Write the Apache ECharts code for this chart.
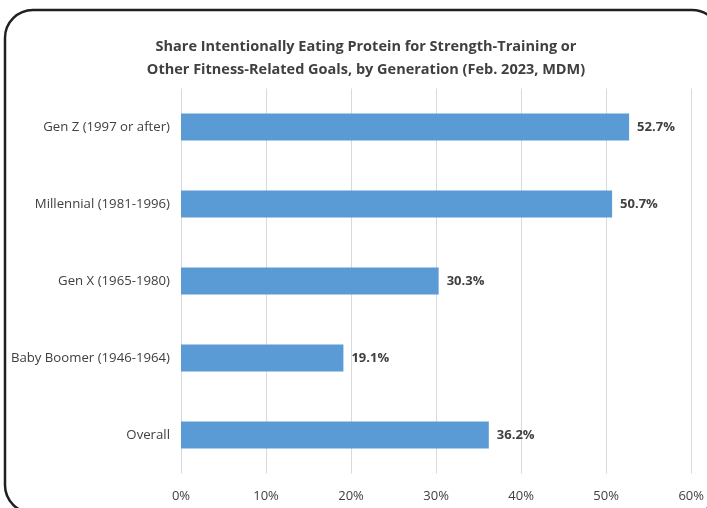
<!DOCTYPE html>
<html>
<head>
<meta charset="utf-8">
<script src="https://cdn.jsdelivr.net/npm/echarts@6/dist/echarts.min.js"></script>
<style>
  html, body { margin: 0; padding: 0; background: #fff; }
  #chart { width: 707px; height: 508px; }
</style>
</head>
<body>
<div id="chart"></div>
<script>
// Generations, top to bottom
const categories = [
  'Gen Z (1997 or after)',
  'Millennial (1981-1996)',
  'Gen X (1965-1980)',
  'Baby Boomer (1946-1964)',
  'Overall'
];
// Share (%) intentionally eating protein for fitness goals
const shares = [52.7, 50.7, 30.3, 19.1, 36.2];
const titleLines = [
  'Share Intentionally Eating Protein for Strength-Training or',
  'Other Fitness-Related Goals, by Generation (Feb. 2023, MDM)'
];

const FONT = '"Open Sans", "Noto Sans", sans-serif';
const TEXT = '#404040';

const chart = echarts.init(document.getElementById('chart'), null, { renderer: 'canvas' });
chart.setOption({
  animation: false,
  backgroundColor: '#ffffff',
  title: {
    text: titleLines.join('\n'),
    left: 361,
    top: 30,
    textAlign: 'center',
    textStyle: {
      fontFamily: FONT,
      fontSize: 14.5,
      fontWeight: 'bold',
      color: TEXT,
      lineHeight: 23
    }
  },
  grid: { left: 181, right: 14, top: 88.5, bottom: 34.5, containLabel: false },
  xAxis: {
    type: 'value',
    min: 0,
    max: 60,
    interval: 10,
    axisLine: { show: false },
    axisTick: { show: false },
    axisLabel: {
      margin: 16,
      fontFamily: FONT,
      fontSize: 13,
      color: TEXT,
      formatter: v => v + '%'
    },
    splitLine: { show: true, lineStyle: { color: '#d9d9d9', width: 1 } }
  },
  yAxis: {
    type: 'category',
    data: categories,
    inverse: true,
    axisLine: { show: false },
    axisTick: { show: false },
    axisLabel: {
      margin: 11,
      fontFamily: FONT,
      fontSize: 13.2,
      color: TEXT
    }
  },
  series: [{
    type: 'bar',
    data: shares,
    barWidth: 27,
    itemStyle: { color: '#5b9bd5' },
    label: {
      show: true,
      position: 'right',
      distance: 8,
      fontFamily: FONT,
      fontSize: 13,
      fontWeight: 'bold',
      color: TEXT,
      formatter: p => p.value.toFixed(1) + '%'
    }
  }],
  graphic: [{
    type: 'rect',
    silent: true,
    z: 100,
    shape: { x: 5, y: 10, width: 715, height: 503, r: 28 },
    style: { fill: null, stroke: '#231f20', lineWidth: 2.5 }
  }]
});
</script>
</body>
</html>
